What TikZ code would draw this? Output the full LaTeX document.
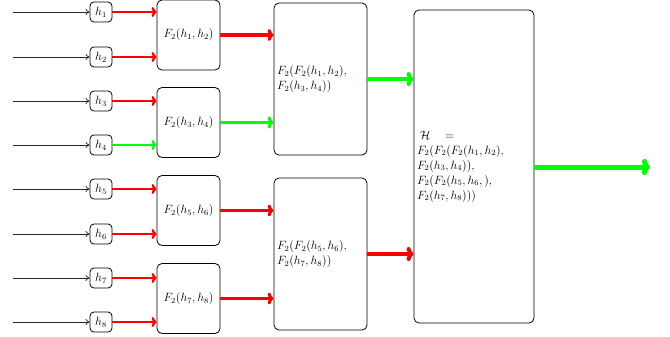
\documentclass[tikz,border=0pt]{standalone}
\usetikzlibrary{arrows.meta}
\begin{document}
\begin{tikzpicture}[x=1pt,y=-1pt,
  every node/.style={font=\fontsize{11.5}{15}\selectfont},
  hbox/.style={draw, line width=0.8pt, rounded corners=4pt, minimum width=22pt, minimum height=20pt, inner sep=0pt},
  fbox/.style={draw, line width=0.8pt, rounded corners=5pt, minimum width=63pt, minimum height=70pt, inner sep=1pt},
  gbox/.style={draw, line width=0.8pt, rounded corners=5pt, minimum height=152pt, text width=87pt, align=left, inner sep=3pt},
  bbox/.style={draw, line width=0.8pt, rounded corners=5pt, minimum height=313pt, text width=114pt, align=left, inner sep=3pt},
  inarr/.style={-{To[length=4pt,width=6pt]}, line width=0.7pt, black!85},
  ra/.style={-{To[length=5pt,width=10pt]}, line width=2.4pt},
  rb/.style={-{To[length=6pt,width=12pt]}, line width=3.2pt},
  rc/.style={-{To[length=7pt,width=14pt]}, line width=4pt},
  rd/.style={-{To[length=8pt,width=16pt]}, line width=5pt}]
\useasboundingbox (0,0) rectangle (670,337);
\definecolor{gr}{RGB}{0,255,0}
% h nodes
\foreach \i/\y in {1/12,2/57,3/101,4/145,5/189,6/234,7/278,8/322}{
  \node[hbox] (h\i) at (101,\y) {$h_{\i}$};
  \coordinate (s\i) at (13,\y);
  \draw[inarr] (s\i) -- (h\i.west);
}
% first level
\node[fbox] (f1) at (188.5,35) {$F_2(h_1,h_2)$};
\node[fbox] (f2) at (188.5,122.5) {$F_2(h_3,h_4)$};
\node[fbox] (f3) at (188.5,210.5) {$F_2(h_5,h_6)$};
\node[fbox] (f4) at (188.5,298.5) {$F_2(h_7,h_8)$};
\draw[ra,red] (h1.east) -- (h1.east -| f1.west);
\draw[ra,red] (h2.east) -- (h2.east -| f1.west);
\draw[ra,red] (h3.east) -- (h3.east -| f2.west);
\draw[ra,gr] (h4.east) -- (h4.east -| f2.west);
\draw[ra,red] (h5.east) -- (h5.east -| f3.west);
\draw[ra,red] (h6.east) -- (h6.east -| f3.west);
\draw[ra,red] (h7.east) -- (h7.east -| f4.west);
\draw[ra,red] (h8.east) -- (h8.east -| f4.west);
% second level
\node[gbox] (g1) at (320.5,79) {$F_2(F_2(h_1,h_2),$\\$F_2(h_3,h_4))$};
\node[gbox] (g2) at (320.5,254) {$F_2(F_2(h_5,h_6),$\\$F_2(h_7,h_8))$};
\draw[rb,red] (f1.east) -- (f1.east -| g1.west);
\draw[rb,gr] (f2.east) -- (f2.east -| g1.west);
\draw[rb,red] (f3.east) -- (f3.east -| g2.west);
\draw[rb,red] (f4.east) -- (f4.east -| g2.west);
% big box
\node[bbox] (b) at (474,166.5) {\hspace{3pt}$\mathcal{H}$\hspace{1.3em}$=$\\$F_2(F_2(F_2(h_1,h_2),$\\$F_2(h_3,h_4)),$\\$F_2(F_2(h_5,h_6,),$\\$F_2(h_7,h_8)))$};
\draw[rc,gr] (g1.east) -- (g1.east -| b.west);
\draw[rc,red] (g2.east) -- (g2.east -| b.west);
\coordinate (out) at (650,167);
\draw[rd,gr] (b.east |- out) -- (out);
\end{tikzpicture}
\end{document}
